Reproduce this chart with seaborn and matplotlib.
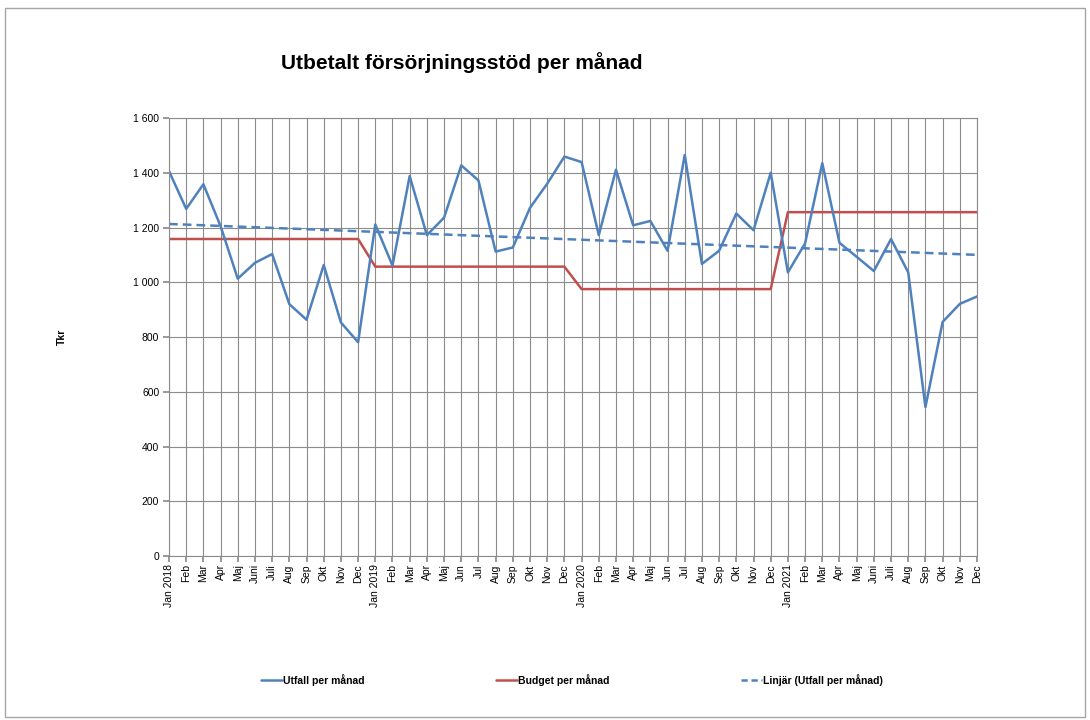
import numpy as np
import pandas as pd
import matplotlib
matplotlib.use("Agg")
import matplotlib.pyplot as plt
import seaborn as sns
from matplotlib.patches import Rectangle
from matplotlib.lines import Line2D

months = ["Jan 2018", "Feb", "Mar", "Apr", "Maj", "Juni", "Juli", "Aug", "Sep", "Okt", "Nov", "Dec",
          "Jan 2019", "Feb", "Mar", "Apr", "Maj", "Jun", "Jul", "Aug", "Sep", "Okt", "Nov", "Dec",
          "Jan 2020", "Feb", "Mar", "Apr", "Maj", "Jun", "Jul", "Aug", "Sep", "Okt", "Nov", "Dec",
          "Jan 2021", "Feb", "Mar", "Apr", "Maj", "Juni", "Juli", "Aug", "Sep", "Okt", "Nov", "Dec"]

utfall = [1406, 1268, 1358, 1205, 1013, 1071, 1103, 920, 863, 1063, 853, 781,
          1211, 1061, 1388, 1172, 1236, 1427, 1372, 1112, 1127, 1272, 1360, 1459,
          1439, 1172, 1411, 1208, 1224, 1115, 1465, 1067, 1115, 1251, 1190, 1400,
          1036, 1142, 1435, 1144, 1093, 1041, 1158, 1036, 544, 855, 921, 948]

budget_per_year = [1158, 1057, 975, 1256]
budget = [b for b in budget_per_year for _ in range(12)]

yticks = [0, 200, 400, 600, 800, 1000, 1200, 1400, 1600]
ytick_labels = ["0", "200", "400", "600", "800", "1 000", "1 200", "1 400", "1 600"]

idx = np.arange(len(months))
coef = np.polyfit(idx, utfall, 1)
trend = np.polyval(coef, idx)

df = pd.DataFrame({"i": idx, "Utfall per månad": utfall, "Budget per månad": budget,
                   "Linjär (Utfall per månad)": trend})

sns.set_theme(style="white")
plt.rcParams['font.family'] = ['Liberation Sans', 'DejaVu Sans']
plt.rcParams['text.color'] = 'black'
plt.rcParams['xtick.color'] = 'black'
plt.rcParams['ytick.color'] = 'black'

BLUE = "#4F81BD"
RED = "#C0504D"
GRID = "#8C8C8C"

fig = plt.figure(figsize=(10.9, 7.2), dpi=100)
ax = fig.add_axes([169/1090, 1-556/720, (977-169)/1090, (556-118)/720])

sns.lineplot(data=df, x="i", y="Budget per månad", ax=ax, color=RED, lw=1.8)
sns.lineplot(data=df, x="i", y="Linjär (Utfall per månad)", ax=ax, color=BLUE, lw=1.8,
             linestyle=(0, (3.5, 2)))
sns.lineplot(data=df, x="i", y="Utfall per månad", ax=ax, color=BLUE, lw=1.8)

ax.set_xlim(0, len(months)-1)
ax.set_ylim(0, 1600)
ax.set_xticks(idx)
ax.set_xticklabels(months, rotation=90, fontsize=7.5)
ax.set_yticks(yticks)
ax.set_yticklabels(ytick_labels, fontsize=7.5)
ax.set_xlabel("")
ax.set_ylabel("")
ax.grid(True, color=GRID, lw=0.8)
ax.set_axisbelow(True)
for s in ax.spines.values():
    s.set_color(GRID)
    s.set_linewidth(0.8)
ax.tick_params(axis="x", direction="out", length=4, color=GRID, labelcolor="black", pad=2, bottom=True)
ax.tick_params(axis="y", direction="out", length=4, color=GRID, labelcolor="black", pad=3, left=True)

fig.text(462/1090, 1-63/720, "Utbetalt försörjningsstöd per månad", ha="center", va="center",
         fontsize=15, fontweight="bold", color="black")
fig.text(62/1090, 1-337/720, "Tkr", rotation=90, ha="center", va="center",
         fontsize=7.5, fontweight="bold", color="black")

handles = [Line2D([], [], color=BLUE, lw=1.8),
           Line2D([], [], color=RED, lw=1.8),
           Line2D([], [], color=BLUE, lw=1.8, linestyle=(0, (2.5, 1.5)))]
labels = ["Utfall per månad", "Budget per månad", "Linjär (Utfall per månad)"]
leg = fig.legend(handles, labels, loc="center", bbox_to_anchor=(572/1090, 1-680/720), ncol=3,
                 frameon=False, fontsize=7.5, handlelength=2.0, handletextpad=0.1,
                 columnspacing=12.6)
for t in leg.get_texts():
    t.set_fontweight("bold")
    t.set_color("black")

fig.patches.append(Rectangle((5/1090, 1-717/720), 1080/1090, 709/720, transform=fig.transFigure,
                             fill=False, edgecolor="#A6A6A6", lw=1))

fig.savefig("out.png", dpi=100)
